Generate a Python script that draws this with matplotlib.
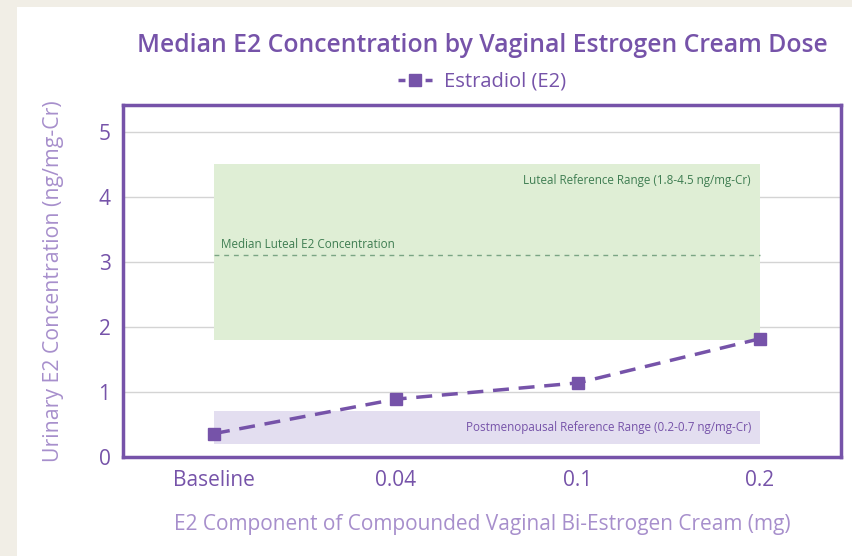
import matplotlib.pyplot as plt
from matplotlib.patches import Rectangle
from matplotlib.lines import Line2D

# data
doses = ['Baseline', '0.04', '0.1', '0.2']
e2_median = [0.36, 0.89, 1.14, 1.82]
luteal_range = (1.8, 4.5)
postmeno_range = (0.2, 0.7)
luteal_median = 3.1
y_ticks = [0, 1, 2, 3, 4, 5]

purple = '#7653a9'
light_purple = '#a78fcc'
green_txt = '#3f7d52'

plt.rcParams['font.family'] = ['Open Sans', 'DejaVu Sans']

fig = plt.figure(figsize=(8.53, 5.56), dpi=100, facecolor='#f1eee6')
# white card behind everything
fig.patches.append(Rectangle((17 / 853, 0), 1, 1 - 7 / 556, transform=fig.transFigure,
                             facecolor='white', edgecolor='none', zorder=-10))

ax = fig.add_axes([123 / 853, 1 - 457 / 556, (841 - 123) / 853, (457 - 105) / 556])
ax.set_facecolor('white')

x = list(range(len(doses)))

# reference bands
ax.fill_between([x[0], x[-1]], luteal_range[0], luteal_range[1], color='#dfeed5', zorder=1, lw=0)
ax.fill_between([x[0], x[-1]], postmeno_range[0], postmeno_range[1], color='#e3def0', zorder=1, lw=0)
ax.plot([x[0], x[-1]], [luteal_median, luteal_median], ls=(0, (3.5, 3.5)), color='#7aa584', lw=1, zorder=2)

ax.text(x[-1] - 0.05, 4.25, 'Luteal Reference Range (1.8-4.5 ng/mg-Cr)', ha='right', va='center',
        fontsize=8.4, color=green_txt, zorder=3)
ax.text(x[0] + 0.04, 3.27, 'Median Luteal E2 Concentration', ha='left', va='center',
        fontsize=8.4, color=green_txt, zorder=3)
ax.text(x[-1] - 0.05, 0.45, 'Postmenopausal Reference Range (0.2-0.7 ng/mg-Cr)', ha='right', va='center',
        fontsize=8.4, color=purple, zorder=3)

ax.plot(x, e2_median, ls=(0, (4.6, 2.8)), lw=2.5, color=purple, marker='s', markersize=9, zorder=4)

ax.set_xlim(-0.5, 3.445)
ax.set_ylim(0, 5.415)
ax.set_xticks(x)
ax.set_xticklabels(doses)
ax.set_yticks(y_ticks)
ax.tick_params(length=0, labelsize=15, colors=purple, pad=9)
ax.grid(axis='y', color='#d4d4d4', lw=1, zorder=0)
ax.set_axisbelow(True)
for s in ax.spines.values():
    s.set_color(purple)
    s.set_linewidth(2.5)

ax.set_ylabel('Urinary E2 Concentration (ng/mg-Cr)', fontsize=15.3, color=light_purple, labelpad=25)
ax.set_xlabel('E2 Component of Compounded Vaginal Bi-Estrogen Cream (mg)', fontsize=15,
              color=light_purple, labelpad=17)

ax.set_title('Median E2 Concentration by Vaginal Estrogen Cream Dose', fontsize=17.8,
             fontweight='semibold', color=purple, pad=38)

# legend handle drawn as "-■-"
handle = Line2D([], [], ls=(0, (2, 5.8)), lw=2.5, color=purple, marker='s', markersize=9)
leg = ax.legend([handle], ['Estradiol (E2)'], loc='lower center', bbox_to_anchor=(0.5, 1.0),
                frameon=False, fontsize=14.5, handlelength=1.7, handletextpad=0.55, borderaxespad=0.25)
for t in leg.get_texts():
    t.set_color(purple)

fig.savefig('out.png', dpi=100, facecolor=fig.get_facecolor())
